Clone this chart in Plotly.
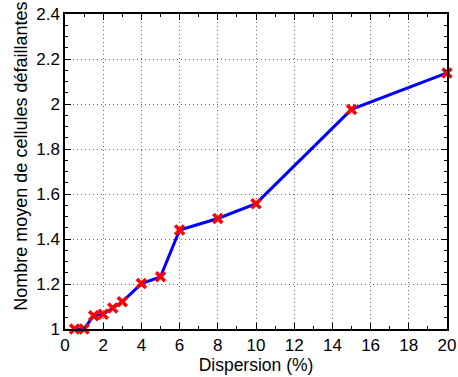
import plotly.graph_objects as go

dispersion = [0.5, 1, 1.5, 2, 2.5, 3, 4, 5, 6, 8, 10, 15, 20]
nb_cellules = [1.0, 1.0, 1.059, 1.066, 1.093, 1.121, 1.202, 1.232, 1.44, 1.491, 1.557, 1.976, 2.138]

font = "Liberation Sans, Arial, sans-serif"

fig = go.Figure()
fig.add_trace(go.Scatter(x=dispersion, y=nb_cellules,
                         mode="lines+markers",
                         line=dict(color="#0000ff", width=3),
                         marker=dict(symbol="x-thin", size=9, color="#ff0000",
                                     line=dict(color="#ff0000", width=3.5)),
                         cliponaxis=False,
                         showlegend=False))

axis_style = dict(showline=True, linecolor="black", linewidth=1.5, mirror="ticks",
                  ticks="inside", ticklen=6, tickcolor="black",
                  showgrid=True, gridcolor="#666666", griddash="1px,3px", gridwidth=1,
                  zeroline=False, automargin=False,
                  tickfont=dict(family=font, size=17, color="black"))

fig.update_xaxes(range=[0, 20], dtick=2, title=dict(text="Dispersion (%)", standoff=2,
                                                     font=dict(family=font, size=17.5, color="black")),
                 minor=dict(dtick=1, ticks="inside", ticklen=3, tickcolor="black", showgrid=False),
                 **axis_style)
fig.update_yaxes(range=[1, 2.4], dtick=0.2,
                 minor=dict(dtick=0.05, ticks="inside", ticklen=3, tickcolor="black", showgrid=False),
                 **axis_style)

# y label sits a bit above the centre of the axes in the original, so use an annotation
fig.add_annotation(text="Nombre moyen de cellules défaillantes",
                   xref="paper", yref="paper", x=0, y=0.547,
                   xanchor="center", yanchor="middle", xshift=-44,
                   textangle=-90, showarrow=False,
                   font=dict(family=font, size=18, color="black"))

fig.update_layout(width=458, height=377,
                  margin={'t': 14, 'b': 48, 'l': 65, 'r': 11},
                  plot_bgcolor="white", paper_bgcolor="white",
                  font=dict(family=font, color="black"))

# the default page body has an 8px margin, remove it so the figure sits at 0,0
fig.write_html("out.html", config={'displayModeBar': False},
               post_script="document.body.style.margin='0';")
